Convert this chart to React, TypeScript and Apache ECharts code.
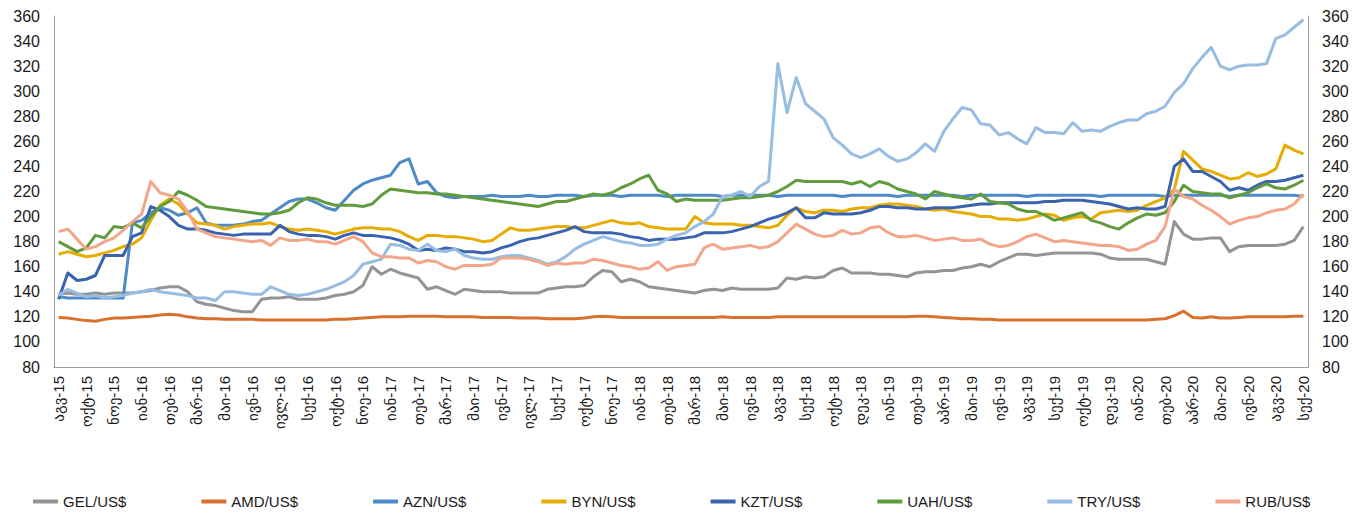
import React, { useEffect, useRef } from "react";
import * as echarts from "echarts";

// Tick labels (every third point of the sampled series)
const tickLabels = [
  "აგვ-15", "ოქტ-15", "ნოე-15", "იან-16", "თებ-16", "მარ-16", "მაი-16", "ივნ-16", "ივლ-16", "სექ-16",
  "ოქტ-16", "ნოე-16", "იან-17", "თებ-17", "მარ-17", "მაი-17", "ივნ-17", "ივლ-17", "სექ-17", "ოქტ-17",
  "ნოე-17", "იან-18", "თებ-18", "მარ-18", "მაი-18", "ივნ-18", "აგვ-18", "სექ-18", "ოქტ-18", "დეკ-18",
  "იან-19", "თებ-19", "აპრ-19", "მაი-19", "ივნ-19", "აგვ-19", "სექ-19", "ოქტ-19", "დეკ-19", "იან-20",
  "თებ-20", "აპრ-20", "მაი-20", "ივნ-20", "აგვ-20", "სექ-20",
];

const gel = [
  138, 139, 138, 138, 139, 138, 139, 139, 139, 140, 141, 143, 144, 144, 140, 132, 130, 129, 127, 125, 124, 124, 134, 135, 135, 136, 134, 134,
  134, 135, 137, 138, 140, 145, 160, 154, 158, 155, 153, 151, 142, 144, 141, 138, 142, 141, 140, 140, 140, 139, 139, 139, 139, 142, 143,
  144, 144, 145, 152, 157, 156, 148, 150, 148, 144, 143, 142, 141, 140, 139, 141, 142, 141, 143, 142, 142, 142, 142, 143, 151, 150, 152,
  151, 152, 157, 159, 155, 155, 155, 154, 154, 153, 152, 155, 156, 156, 157, 157, 159, 160, 162, 160, 164, 167, 170, 170, 169, 170, 171,
  171, 171, 171, 171, 170, 167, 166, 166, 166, 166, 164, 162, 196, 186, 182, 182, 183, 183, 172, 176, 177, 177, 177, 177, 178, 181, 192,
];

const amd = [
  119.5, 119, 118, 117, 116.5, 118, 119, 119, 119.5, 120, 120.5, 121.5, 122, 121.5, 120, 119, 118.5, 118.5, 118, 118, 118, 118, 117.5, 117.5, 117.5, 117.5, 117.5, 117.5,
  117.5, 117.5, 118, 118, 118.5, 119, 119.5, 120, 120, 120, 120.5, 120.5, 120.5, 120.5, 120, 120, 120, 120, 119.5, 119.5, 119.5, 119.5, 119, 119, 119, 118.5, 118.5,
  118.5, 118.5, 119, 120, 120.5, 120, 119.5, 119.5, 119.5, 119.5, 119.5, 119.5, 119.5, 119.5, 119.5, 119.5, 119.5, 120, 119.5, 119.5, 119.5, 119.5, 119.5, 120, 120, 120, 120,
  120, 120, 120, 120, 120, 120, 120, 120, 120, 120, 120, 120.5, 120.5, 120, 119.5, 119, 118.5, 118.5, 118, 118, 117.5, 117.5, 117.5, 117.5, 117.5, 117.5, 117.5,
  117.5, 117.5, 117.5, 117.5, 117.5, 117.5, 117.5, 117.5, 117.5, 117.5, 118, 118.5, 121, 124.5, 119.5, 119, 120, 119, 119, 119.5, 120, 120, 120, 120, 120, 120.5, 120.5,
];

const azn = [
  136, 135, 135, 135, 135, 135, 135, 135, 195, 197, 203, 207, 205, 201, 203, 207, 195, 193, 193, 193, 194, 196, 197, 202, 207, 212, 214, 214,
  211, 207, 205, 213, 221, 226, 229, 231, 233, 243, 246, 226, 228, 219, 216, 215, 216, 216, 216, 217, 216, 216, 216, 217, 216, 216, 217,
  217, 217, 216, 217, 217, 217, 216, 217, 217, 217, 217, 216, 217, 217, 217, 217, 217, 216, 217, 217, 217, 217, 217, 216, 217, 217, 217,
  217, 217, 217, 216, 217, 217, 217, 217, 217, 216, 217, 217, 217, 217, 217, 217, 216, 217, 217, 217, 217, 217, 217, 216, 217, 217, 217,
  217, 217, 217, 217, 216, 217, 217, 217, 217, 217, 217, 216, 217, 217, 217, 217, 217, 217, 216, 217, 217, 217, 217, 217, 217, 217, 216,
];

const byn = [
  170, 172, 170, 168, 169, 171, 173, 176, 178, 183, 197, 209, 214, 210, 202, 195, 194, 193, 190, 192, 193, 194, 194, 195, 192, 190, 189, 190,
  189, 188, 186, 188, 190, 191, 191, 190, 190, 188, 184, 181, 185, 185, 184, 184, 183, 182, 180, 181, 186, 191, 189, 189, 190, 191, 192,
  192, 191, 191, 193, 195, 197, 195, 194, 195, 192, 191, 190, 190, 190, 200, 195, 194, 194, 194, 193, 193, 192, 191, 193, 201, 207, 204,
  203, 205, 205, 204, 206, 207, 207, 209, 210, 210, 209, 208, 206, 205, 206, 204, 203, 202, 200, 200, 198, 198, 197, 198, 200, 202, 201,
  197, 199, 200, 198, 203, 204, 205, 204, 205, 209, 212, 215, 222, 252, 245, 238, 236, 233, 230, 231, 235, 232, 234, 238, 257, 253, 250,
];

const kzt = [
  134, 155, 149, 150, 153, 169, 169, 169, 184, 187, 208, 205, 200, 193, 190, 190, 189, 187, 186, 185, 186, 186, 186, 186, 193, 188, 186, 185,
  185, 184, 182, 185, 187, 185, 185, 184, 183, 181, 178, 173, 174, 173, 175, 174, 172, 172, 171, 172, 175, 177, 180, 182, 183, 185, 187,
  189, 192, 188, 187, 187, 187, 186, 184, 183, 181, 182, 182, 182, 183, 184, 187, 187, 187, 188, 190, 192, 195, 198, 200, 203, 207, 199,
  199, 203, 202, 202, 202, 203, 205, 208, 208, 207, 207, 206, 206, 207, 207, 207, 208, 209, 210, 210, 211, 211, 211, 211, 211, 212, 212,
  213, 213, 213, 212, 211, 210, 208, 206, 207, 206, 206, 208, 240, 246, 236, 236, 232, 228, 221, 223, 221, 225, 228, 228, 229, 231, 233,
];

const uah = [
  180, 176, 172, 175, 185, 183, 192, 191, 195, 191, 200, 208, 212, 220, 217, 213, 208, 207, 206, 205, 204, 203, 202, 202, 203, 205, 211, 215,
  214, 211, 209, 209, 209, 208, 210, 217, 222, 221, 220, 219, 219, 218, 218, 217, 216, 215, 214, 213, 212, 211, 210, 209, 208, 210, 212,
  212, 214, 216, 218, 217, 219, 223, 226, 230, 233, 221, 218, 212, 214, 213, 213, 213, 213, 214, 215, 215, 216, 217, 220, 224, 229, 228,
  228, 228, 228, 228, 226, 228, 224, 228, 226, 222, 220, 218, 214, 220, 218, 216, 215, 214, 218, 212, 211, 210, 206, 204, 204, 201, 197,
  199, 201, 203, 197, 195, 192, 190, 195, 199, 202, 201, 203, 212, 225, 220, 219, 218, 218, 215, 217, 219, 223, 226, 223, 222, 225, 229,
];

const tryUsd = [
  137, 142, 139, 136, 137, 135, 136, 137, 139, 140, 142, 140, 139, 138, 137, 135, 135, 133, 140, 140, 139, 138, 138, 144, 141, 138, 137, 138,
  140, 142, 145, 148, 153, 162, 164, 166, 178, 177, 174, 173, 178, 173, 172, 174, 169, 167, 166, 166, 168, 169, 169, 167, 165, 162, 164,
  168, 174, 178, 181, 184, 182, 180, 179, 177, 177, 178, 182, 185, 187, 192, 196, 202, 216, 217, 220, 216, 224, 228, 322, 283, 311, 290,
  284, 278, 263, 257, 250, 247, 250, 254, 248, 244, 246, 251, 258, 252, 268, 278, 287, 285, 274, 273, 265, 267, 262, 258, 271, 267, 267,
  266, 275, 268, 269, 268, 272, 275, 277, 277, 282, 284, 288, 299, 306, 318, 327, 335, 320, 317, 320, 321, 321, 322, 342, 345, 351, 357,
];

const rub = [
  188, 190, 182, 174, 176, 180, 183, 189, 196, 202, 228, 219, 217, 214, 204, 190, 187, 184, 183, 182, 181, 180, 181, 177, 183, 181, 181, 182,
  180, 180, 178, 181, 184, 180, 171, 168, 168, 167, 167, 163, 165, 164, 160, 158, 161, 161, 161, 162, 167, 167, 167, 166, 164, 161, 163,
  162, 163, 163, 166, 165, 163, 161, 160, 158, 159, 164, 157, 160, 161, 162, 175, 178, 174, 175, 176, 177, 175, 176, 180, 187, 194, 190,
  186, 184, 185, 189, 186, 187, 191, 192, 187, 184, 184, 185, 183, 181, 182, 183, 181, 181, 182, 178, 176, 177, 180, 184, 186, 183, 180,
  181, 180, 179, 178, 177, 177, 176, 173, 174, 178, 181, 192, 222, 216, 214, 209, 205, 200, 194, 197, 199, 200, 203, 205, 206, 210, 218,
];

const seriesNames = ["GEL/US$", "AMD/US$", "AZN/US$", "BYN/US$", "KZT/US$", "UAH/US$", "TRY/US$", "RUB/US$"];
const seriesData = [gel, amd, azn, byn, kzt, uah, tryUsd, rub];
const seriesColors = ["#949494", "#D8702E", "#4E8BC6", "#E6AC00", "#3A63AF", "#609C3D", "#98BDE3", "#F2A78B"];

const FONT = "'Liberation Sans', Arial, 'DejaVu Sans', sans-serif";

export default function App() {
  const ref = useRef<HTMLDivElement>(null);

  useEffect(() => {
    if (!ref.current) return;
    const chart = echarts.init(ref.current, null, { renderer: "svg" });

    const categories: string[] = [];
    tickLabels.forEach((label, i) => {
      categories.push(label);
      if (i < tickLabels.length - 1) {
        categories.push(label + " ·1");
        categories.push(label + " ·2");
      }
    });

    const yAxisCommon = {
      type: "value",
      min: 80,
      max: 360,
      interval: 20,
      splitLine: { show: false },
      axisTick: { show: false },
      axisLine: { show: true, lineStyle: { color: "#9a9a9a", width: 1 } },
    };

    chart.setOption({
      animation: false,
      backgroundColor: "#ffffff",
      textStyle: { fontFamily: FONT },
      grid: { left: 54, right: 62, top: 16, bottom: 156, containLabel: false },
      legend: {
        top: 494,
        left: 33,
        itemGap: 75,
        itemWidth: 25,
        itemHeight: 4,
        icon: "rect",
        padding: 0,
        textStyle: { fontSize: 15, color: "#1a1a1a", fontFamily: FONT },
        data: seriesNames,
      },
      xAxis: {
        type: "category",
        data: categories,
        boundaryGap: true,
        axisTick: { show: false },
        axisLine: { show: true, lineStyle: { color: "#9a9a9a", width: 1 } },
        axisLabel: {
          interval: (idx: number) => idx % 3 === 0,
          rotate: 90,
          margin: 9,
          fontSize: 15,
          color: "#1a1a1a",
          fontFamily: FONT,
        },
      },
      yAxis: [
        {
          ...yAxisCommon,
          position: "left",
          axisLabel: { fontSize: 16, color: "#1a1a1a", margin: 14, fontFamily: FONT },
        },
        {
          ...yAxisCommon,
          position: "right",
          axisLabel: { fontSize: 16, color: "#1a1a1a", margin: 14, fontFamily: FONT },
        },
      ],
      series: seriesNames.map((name, i) => ({
        name,
        type: "line",
        yAxisIndex: 0,
        data: seriesData[i],
        showSymbol: false,
        symbol: "none",
        color: seriesColors[i],
        lineStyle: { width: 3, color: seriesColors[i], join: "round" },
        itemStyle: { color: seriesColors[i] },
        emphasis: { disabled: true },
      })),
    });

    return () => chart.dispose();
  }, []);

  return (
    <div
      ref={ref}
      style={{ position: "fixed", left: 0, top: 0, width: 1370, height: 523, background: "#fff" }}
    />
  );
}
